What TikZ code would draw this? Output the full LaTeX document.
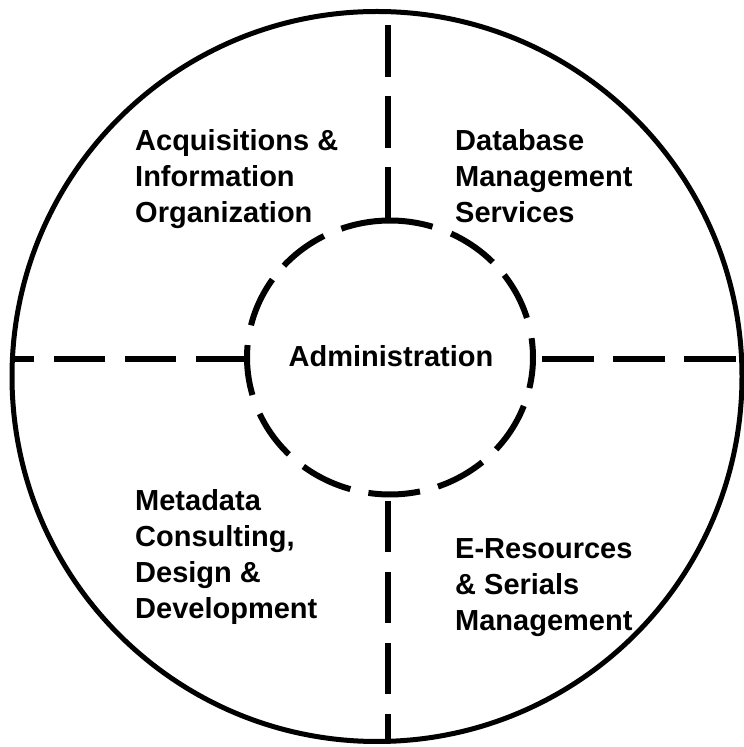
\documentclass[tikz,border=0pt]{standalone}
\usepackage{fontspec}
\setmainfont{Liberation Sans}
\begin{document}
\begin{tikzpicture}[x=1pt,y=1pt,
  lbl/.style={font=\fontsize{29}{36}\selectfont\bfseries, align=left, anchor=base west, inner sep=0pt},
  dashline/.style={line width=6pt, dash pattern=on 51.5pt off 19.5pt},
  innerdash/.style={line width=6pt}]
\useasboundingbox (0,0) rectangle (744,747);
% outer circle
\node[circle, draw, line width=5pt, minimum size=730pt, inner sep=0pt] (outer) at (377,370.5) {};
% inner dashed ellipse
\coordinate (ic) at (390,389.5);
\foreach \a/\b in {72.7/109.9, 44.1/64.7, 16.8/37.0, -12.9/8.1, -42.1/-20.7, -70.4/-49.8,
                   -98.7/-77.9, -127.3/-106.1, -155.7/-135, 174.8/195.9, 145.3/166.4, 117.5/137.9}
  \draw[innerdash] (ic) ++(\a:143pt and 137pt) arc[start angle=\a, end angle=\b, x radius=143pt, y radius=137pt];
% connector ends
\coordinate (inL) at (247,387.7);
\coordinate (outL) at (13,387.7);
\coordinate (inR) at (542,387.7);
\coordinate (outR) at (741,387.7);
\coordinate (inT) at (387.5,528);
\coordinate (outT) at (387.5,736);
\coordinate (inB) at (387.5,246);
\coordinate (outB) at (387.5,5);
\draw[dashline] (inL) -- (outL);
\draw[dashline] (inR) -- (outR);
\draw[dashline] (inT) -- (outT);
\draw[dashline] (inB) -- (outB);
% labels
\node[font=\fontsize{29}{36}\selectfont\bfseries, inner sep=0pt, anchor=base] (admin) at (391,380) {Administration};
\node[lbl] (acq) at (135,524) {Acquisitions \&\\Information\\Organization};
\node[lbl] (db) at (455,524) {Database\\Management\\Services};
\node[lbl] (meta) at (135,128) {Metadata\\Consulting,\\Design \&\\Development};
\node[lbl] (eres) at (455,116) {E-Resources\\\& Serials\\Management};
\end{tikzpicture}
\end{document}
